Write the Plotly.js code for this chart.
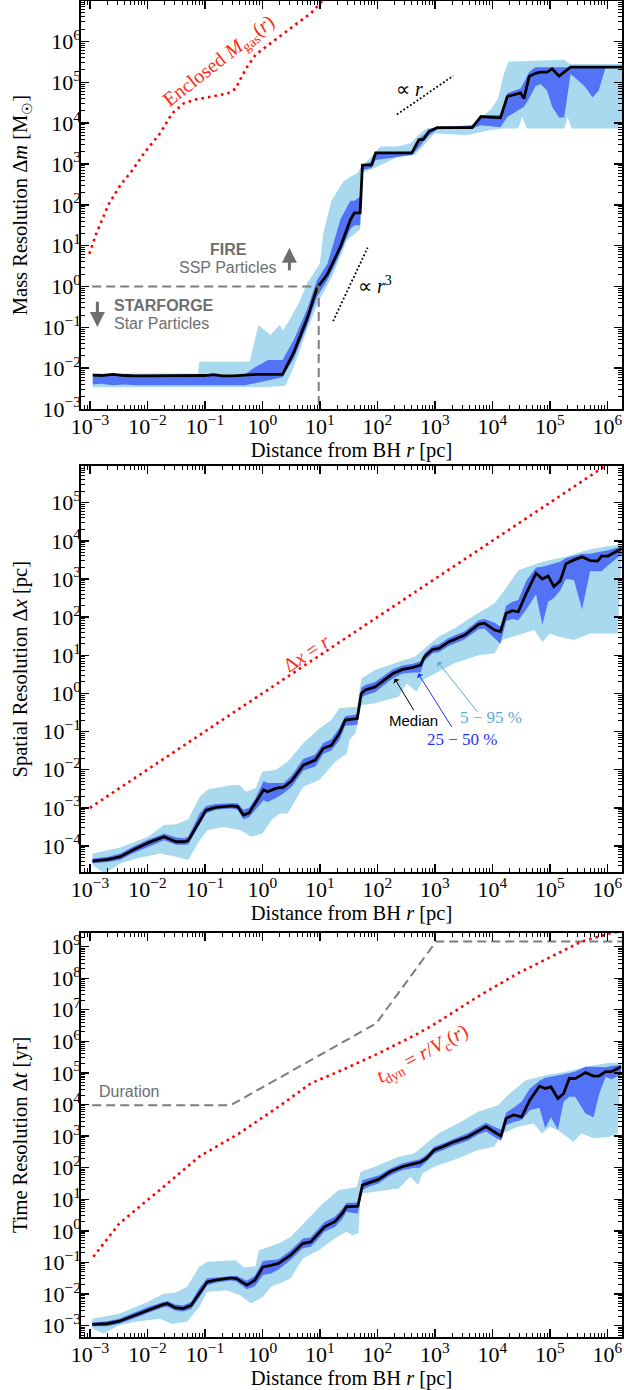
<!DOCTYPE html>
<html>
<head>
<meta charset="utf-8">
<script src="https://cdn.plot.ly/plotly-3.0.1.min.js"></script>
<style>html,body{margin:0;padding:0;background:#fff;}</style>
</head>
<body>
<div id="chart" style="width:624px;height:1390px;"></div>
<script>
// All radii and resolution values are stored in dex (log10 units).

// ---------- Panel 1: mass resolution ----------
const massR   = [-2.95,-2.8,-2.6,-2.4,-2.2,-2.0,-1.8,-1.6,-1.4,-1.2,-1.0,-0.85,-0.7,-0.5,-0.3,-0.1,0.1,0.35,0.55,0.78,0.95,1.13,1.3,1.36,1.53,1.6,1.7,1.74,1.9,1.97,2.6,2.72,2.8,2.9,3.04,3.65,3.8,4.14,4.26,4.49,4.55,4.64,4.75,4.84,4.95,5.04,5.16,5.25,5.36,5.5,5.62,5.74,5.85,5.97,6.26];
const massMed = [-2.17,-2.18,-2.15,-2.18,-2.19,-2.19,-2.19,-2.19,-2.19,-2.18,-2.18,-2.16,-2.19,-2.19,-2.17,-2.15,-2.15,-2.15,-1.6,-0.78,-0.04,0.3,0.8,0.98,1.63,1.8,1.8,2.97,2.98,3.27,3.27,3.59,3.6,3.8,3.89,3.89,4.16,4.13,4.65,4.74,4.6,5.14,5.22,5.25,5.25,5.33,5.15,5.25,5.37,5.37,5.37,5.37,5.37,5.37,5.37];
const massP75 = [-2.15,-2.16,-2.14,-2.16,-2.17,-2.17,-2.17,-2.17,-2.17,-2.16,-2.16,-2.14,-2.17,-2.17,-2.15,-1.95,-1.8,-1.8,-1.3,-0.55,0.15,0.55,1.4,1.65,2.1,2.1,2.2,2.99,3.05,3.28,3.3,3.62,3.7,3.85,3.9,3.95,4.2,4.2,4.73,4.85,5.0,5.25,5.37,5.37,5.37,5.37,5.37,5.37,5.37,5.37,5.37,5.37,5.37,5.37,5.37];
const massP25 = [-2.4,-2.38,-2.42,-2.4,-2.42,-2.42,-2.42,-2.42,-2.42,-2.42,-2.42,-2.42,-2.42,-2.42,-2.42,-2.35,-2.3,-2.22,-1.75,-0.95,-0.25,0.15,0.65,0.85,1.4,1.5,1.5,2.85,2.9,3.1,3.22,3.4,3.55,3.7,3.85,3.87,3.95,3.9,4.15,4.35,4.4,4.6,4.9,4.96,4.8,4.4,4.14,4.14,5.2,5.04,4.88,4.63,4.8,5.37,5.37];
const massP95R = [-2.95,-1.12,-1.1,-0.22,-0.07,0.14,0.3,0.36,0.49,0.66,0.78,0.85,1.0,1.06,1.2,1.4,1.54,1.65,1.72,1.9,2.05,2.34,2.58,2.75,2.87,3.56,3.68,3.97,4.1,4.2,4.28,5.25,5.35,6.26];
const massP95  = [-2.13,-2.13,-1.84,-1.84,-0.94,-1.19,-0.94,-1.07,-0.78,-0.33,0.1,0.23,0.56,1.3,2.1,2.56,2.69,2.77,2.93,3.18,3.43,3.43,3.51,3.76,3.88,3.88,4.0,4.33,4.6,5.2,5.5,5.55,5.45,5.45];
const massP5R  = [-2.95,-0.1,0.2,0.4,0.55,0.78,1.0,1.2,1.47,1.7,1.75,1.95,2.1,2.37,2.65,2.8,3.0,3.55,3.96,4.17,4.45,4.52,4.6,5.25,5.31,5.38,6.2,6.26];
const massP5   = [-2.47,-2.47,-2.45,-2.43,-1.95,-1.05,-0.3,0.2,1.13,1.4,2.8,2.9,3.0,3.18,3.22,3.45,3.75,3.7,3.83,3.87,3.87,4.15,3.87,3.87,4.15,3.87,3.87,4.1];
// enclosed gas mass M_gas(<r)
const encR = [-3.01,-2.89,-2.68,-2.47,-2.26,-2.06,-1.78,-1.57,-1.36,-1.16,-0.88,-0.6,-0.46,-0.39,-0.26,-0.12,0.09,0.3,0.5,0.85,1.02,1.2];
const encM = [0.8,1.29,2.0,2.48,2.85,3.26,3.75,4.24,4.49,4.58,4.65,4.73,4.85,5.06,5.39,5.67,5.9,6.12,6.35,6.7,6.96,7.2];
// reference slopes
const slope1R = [2.34,3.32], slope1M = [4.21,5.16];
const slope3R = [1.23,1.83], slope3M = [-0.85,0.95];
// FIRE / STARFORGE hand-off
const handR = [-2.96,0.98,0.98], handM = [0,0,-3];

// ---------- Panel 2: spatial resolution ----------
const dxR   = [-2.955,-2.68,-2.47,-2.26,-1.99,-1.71,-1.5,-1.36,-1.29,-1.09,-0.98,-0.81,-0.53,-0.43,-0.33,-0.23,-0.12,0.02,0.09,0.23,0.37,0.51,0.71,0.92,1.06,1.2,1.34,1.44,1.65,1.72,1.79,1.96,2.1,2.27,2.44,2.62,2.75,2.82,2.96,3.07,3.24,3.52,3.76,3.86,4.04,4.14,4.24,4.35,4.45,4.59,4.76,4.87,4.97,5.07,5.18,5.28,5.42,5.56,5.7,5.83,5.9,6.01,6.25];
const dxMed = [-4.4,-4.35,-4.28,-4.11,-3.92,-3.76,-3.89,-3.89,-3.86,-3.32,-3.06,-2.99,-2.95,-2.97,-3.19,-3.13,-2.88,-2.53,-2.58,-2.49,-2.46,-2.29,-1.88,-1.75,-1.44,-1.36,-1.05,-0.7,-0.66,0.0,0.09,0.17,0.33,0.52,0.63,0.68,0.74,0.96,1.15,1.18,1.35,1.53,1.81,1.84,1.66,1.62,2.1,2.17,2.14,2.62,3.15,3.0,3.08,2.8,2.95,3.4,3.5,3.58,3.48,3.47,3.6,3.6,3.8];
const dxP75 = [-4.33,-4.28,-4.2,-4.03,-3.84,-3.68,-3.78,-3.8,-3.75,-3.15,-2.95,-2.9,-2.88,-2.88,-3.05,-3.0,-2.75,-2.3,-2.35,-2.35,-2.35,-2.15,-1.72,-1.6,-1.3,-1.2,-0.9,-0.6,-0.55,0.15,0.22,0.3,0.45,0.63,0.73,0.78,0.84,1.05,1.25,1.28,1.45,1.63,1.92,1.95,1.85,1.75,2.3,2.4,2.45,2.95,3.3,3.32,3.36,3.4,3.45,3.55,3.6,3.66,3.66,3.7,3.72,3.75,3.85];
const dxP25 = [-4.45,-4.42,-4.36,-4.2,-4.02,-3.85,-3.97,-3.97,-3.96,-3.45,-3.15,-3.05,-3.02,-3.05,-3.3,-3.25,-3.05,-2.8,-2.85,-2.75,-2.62,-2.45,-2.02,-1.92,-1.58,-1.5,-1.22,-0.85,-0.82,-0.12,-0.05,0.03,0.2,0.4,0.52,0.55,0.55,0.85,1.05,1.08,1.24,1.42,1.68,1.7,1.45,1.3,1.9,1.95,1.92,2.2,2.6,1.8,2.4,2.5,2.7,3.0,2.97,2.2,3.2,3.2,3.2,3.35,3.65];
const dxP95R = [-2.955,-2.47,-1.99,-1.71,-1.5,-1.29,-1.09,-0.95,-0.53,-0.39,-0.29,-0.12,0.0,0.23,0.44,0.71,0.99,1.2,1.34,1.65,1.72,1.96,2.37,2.65,2.79,3.07,3.34,3.69,4.04,4.17,4.45,4.87,5.28,5.63,5.97,6.25];
const dxP95  = [-4.2,-4.04,-3.76,-3.45,-3.43,-3.3,-2.71,-2.52,-2.4,-2.4,-2.58,-2.49,-2.05,-2.01,-1.79,-1.31,-0.92,-0.7,-0.39,-0.35,0.39,0.61,0.83,0.96,1.14,1.49,1.7,2.05,2.36,2.62,3.23,3.45,3.58,3.75,3.85,3.9];
const dxP5R  = [-2.955,-2.75,-2.47,-2.19,-1.78,-1.5,-1.29,-1.09,-0.95,-0.67,-0.39,-0.19,0.0,0.16,0.3,0.44,0.71,0.99,1.27,1.47,1.52,1.62,1.72,1.96,2.37,2.51,2.68,2.79,3.0,3.34,3.76,4.04,4.17,4.45,4.73,4.87,5.0,5.14,5.42,5.7,5.97,6.18,6.25];
const dxP5   = [-4.5,-4.72,-4.46,-4.33,-4.2,-4.28,-4.37,-3.85,-3.58,-3.5,-3.58,-3.76,-3.67,-3.32,-3.15,-3.15,-2.45,-2.27,-1.79,-1.57,-1.2,-1.05,-0.31,-0.26,-0.09,0.26,0.04,0.35,0.52,0.79,1.0,1.05,1.4,1.53,1.66,1.35,1.57,1.49,1.4,1.57,1.57,1.57,3.6];
// the line Δx = r
const eqR = [-3.0,6.26], eqX = [-3.0,6.26];

// ---------- Panel 3: time resolution ----------
const dtR   = [-2.96,-2.7,-2.49,-2.21,-2.0,-1.72,-1.65,-1.52,-1.38,-1.24,-1.1,-0.96,-0.82,-0.55,-0.45,-0.27,-0.13,0.01,0.15,0.28,0.49,0.7,0.84,0.98,1.08,1.26,1.39,1.46,1.66,1.74,1.88,2.02,2.22,2.43,2.64,2.74,2.85,2.99,3.13,3.33,3.58,3.75,3.89,4.03,4.15,4.24,4.37,4.51,4.65,4.82,4.92,5.02,5.14,5.24,5.34,5.44,5.62,5.76,5.86,5.97,6.07,6.24];
const dtMed = [-2.96,-2.94,-2.86,-2.67,-2.51,-2.33,-2.3,-2.43,-2.46,-2.36,-1.99,-1.62,-1.56,-1.49,-1.51,-1.72,-1.56,-1.14,-1.09,-1.03,-0.77,-0.4,-0.35,-0.08,0.13,0.29,0.55,0.76,0.78,1.45,1.55,1.63,1.87,2.03,2.13,2.17,2.29,2.56,2.66,2.82,2.98,3.17,3.3,3.14,3.0,3.56,3.67,3.61,4.14,4.58,4.51,4.56,4.19,4.35,4.83,4.82,5.01,4.9,4.91,5.04,5.04,5.2];
const dtP75 = [-2.9,-2.86,-2.78,-2.58,-2.42,-2.25,-2.22,-2.33,-2.36,-2.25,-1.82,-1.5,-1.48,-1.42,-1.42,-1.58,-1.42,-0.95,-0.92,-0.9,-0.62,-0.25,-0.2,0.07,0.28,0.45,0.7,0.88,0.9,1.6,1.68,1.75,1.97,2.13,2.23,2.27,2.4,2.66,2.76,2.92,3.1,3.28,3.42,3.3,3.2,3.75,3.9,4.1,4.5,4.75,4.85,4.88,4.92,4.95,5.0,5.05,5.2,5.2,5.18,5.18,5.22,5.25];
const dtP25 = [-3.02,-3.02,-2.94,-2.76,-2.6,-2.42,-2.4,-2.52,-2.55,-2.47,-2.12,-1.72,-1.64,-1.57,-1.6,-1.85,-1.75,-1.4,-1.35,-1.22,-0.92,-0.55,-0.5,-0.24,-0.02,0.12,0.38,0.6,0.55,1.3,1.42,1.5,1.75,1.92,2.0,2.0,2.18,2.44,2.55,2.7,2.86,3.04,3.15,2.98,2.85,3.35,3.45,3.51,3.82,3.9,3.25,3.6,3.2,4.1,4.25,4.25,3.72,3.6,4.35,4.88,4.8,4.95];
const dtP95R = [-2.96,-2.49,-2.0,-1.72,-1.52,-1.31,-1.1,-0.96,-0.46,-0.32,-0.12,-0.06,0.28,0.49,0.77,1.05,1.32,1.64,1.71,1.96,2.37,2.64,2.78,3.06,3.4,3.75,4.1,4.24,4.58,4.93,5.28,5.69,6.04,6.24];
const dtP95  = [-2.78,-2.62,-2.25,-1.99,-1.96,-1.77,-1.14,-0.98,-0.93,-1.16,-1.12,-0.61,-0.4,-0.19,0.34,0.87,1.29,1.39,1.87,2.03,2.35,2.45,2.66,3.08,3.4,3.77,3.98,4.25,4.77,4.93,5.04,5.22,5.32,5.32];
const dtP5R  = [-2.96,-2.76,-2.49,-2.21,-1.79,-1.57,-1.31,-1.1,-0.96,-0.62,-0.39,-0.2,0.01,0.15,0.36,0.49,0.7,0.98,1.26,1.46,1.57,1.67,1.71,1.96,2.37,2.57,2.71,2.78,2.99,3.4,3.75,4.03,4.17,4.44,4.72,4.86,5.0,5.14,5.41,5.55,5.76,6.04,6.18,6.24];
const dtP5   = [-3.09,-3.25,-2.99,-2.88,-2.78,-2.94,-2.88,-2.41,-1.93,-1.88,-2.04,-2.3,-2.09,-1.77,-1.62,-1.51,-0.88,-0.61,-0.24,-0.03,-0.14,-0.08,1.18,1.24,1.34,1.71,1.45,1.82,2.03,2.29,2.56,2.66,3.08,3.3,3.4,3.08,3.3,3.19,2.82,3.08,2.93,2.98,3.08,5.2];
// simulation duration and dynamical time
const durR = [-2.96,-0.55,1.98,3.02,6.26];
const durT = [3.98,3.98,6.57,9.16,9.16];
const tdynR = [-2.94,-2.49,-1.79,-1.1,-0.41,0.28,0.84,1.32,2.02,2.71,3.06,3.75,4.44,5.14,5.55,6.04,6.26];
const tdynT = [-0.82,0.23,1.29,2.35,3.08,3.93,4.67,5.04,5.62,6.25,6.62,7.42,8.15,8.79,9.16,9.42,9.5];

// tick decades
const xTickExp  = [-3,-2,-1,0,1,2,3,4,5,6];
const y1TickExp = [-3,-2,-1,0,1,2,3,4,5,6];
const y2TickExp = [-4,-3,-2,-1,0,1,2,3,4,5];
const y3TickExp = [-3,-2,-1,0,1,2,3,4,5,6,7,8,9];

// ---------- styling ----------
const SERIF = 'Liberation Serif, Times New Roman, serif';
const SANS = 'Liberation Sans, Arial, sans-serif';
const LIGHT = 'rgb(168,217,239)';
const DARK = 'rgb(82,115,246)';
const RED = 'rgb(255,0,0)';
const GREY = 'rgb(110,110,110)';

const lin = a => a.map(v => Math.pow(10, v));

function band(xHi, yHi, xLo, yLo, color, xa, ya) {
  return {
    x: lin(xHi).concat(lin(xLo).reverse()),
    y: lin(yHi).concat(lin(yLo).reverse()),
    mode: 'lines', line: {width: 0, color: color},
    fill: 'toself', fillcolor: color,
    xaxis: xa, yaxis: ya, hoverinfo: 'skip', showlegend: false
  };
}
function curve(xs, ys, xa, ya, style) {
  return {x: lin(xs), y: lin(ys), mode: 'lines', line: style,
          xaxis: xa, yaxis: ya, hoverinfo: 'skip', showlegend: false};
}
function dexBand(xs, hi, lo, color, xa, ya) {
  return band(xs, hi, xs, lo, color, xa, ya);
}

const medStyle = {color: '#000', width: 2.8};
const redDots = {color: RED, width: 2.6, dash: '2.6px,4px'};
const greyDash = {color: 'rgb(125,125,125)', width: 2, dash: '9px,5px'};
const blackDots = {color: '#000', width: 1.8, dash: '1.8px,2.2px'};

const traces = [
  // panel 1
  band(massP95R, massP95, massP5R, massP5, LIGHT, 'x', 'y'),
  dexBand(massR, massP75, massP25, DARK, 'x', 'y'),
  curve(massR, massMed, 'x', 'y', medStyle),
  curve(encR, encM, 'x', 'y', redDots),
  curve(slope1R, slope1M, 'x', 'y', blackDots),
  curve(slope3R, slope3M, 'x', 'y', blackDots),
  curve(handR, handM, 'x', 'y', greyDash),
  // panel 2
  band(dxP95R, dxP95, dxP5R, dxP5, LIGHT, 'x2', 'y2'),
  dexBand(dxR, dxP75, dxP25, DARK, 'x2', 'y2'),
  curve(dxR, dxMed, 'x2', 'y2', medStyle),
  curve(eqR, eqX, 'x2', 'y2', redDots),
  // panel 3
  band(dtP95R, dtP95, dtP5R, dtP5, LIGHT, 'x3', 'y3'),
  dexBand(dtR, dtP75, dtP25, DARK, 'x3', 'y3'),
  curve(dtR, dtMed, 'x3', 'y3', medStyle),
  curve(durR, durT, 'x3', 'y3', greyDash),
  curve(tdynR, tdynT, 'x3', 'y3', redDots)
];

function tickText(exps) {
  return exps.map(e => '10<sup>' + (e < 0 ? '\u2212' + (-e) : e) + '</sup>');
}
function logAxis(exps, range, domain, anchor, titleText, standoff, labelShift) {
  return {
    type: 'log', range: range, domain: domain, anchor: anchor,
    tickmode: 'array', tickvals: lin(exps), ticktext: tickText(exps),
    showgrid: false, zeroline: false,
    showline: true, linecolor: '#000', linewidth: 1.6, mirror: 'allticks',
    ticks: 'inside', ticklen: 8, tickwidth: 1.4, tickcolor: '#000',
    minor: {ticks: 'inside', ticklen: 4, tickwidth: 1, tickcolor: '#000', dtick: 'D1', showgrid: false},
    tickfont: {family: SERIF, size: 22, color: '#000'},
    ticklabelstandoff: labelShift,
    title: {text: titleText, font: {family: SERIF, size: 20.5, color: '#000'}, standoff: standoff},
    automargin: false, fixedrange: true
  };
}

const xRange = [-3.155, 6.255];
const xTitle = 'Distance from BH <i>r</i> [pc]';
const dom1 = [0.6946, 1.0], dom2 = [0.3477, 0.6520], dom3 = [0.0, 0.3026];

const annText = (x, y, text, xr, yr, font, extra) => Object.assign({
  x: x, y: y, xref: xr, yref: yr, text: text, showarrow: false, font: font
}, extra || {});
const arrow = (x, y, ax, ay, xr, yr, color, width, head, size) => ({
  x: x, y: y, ax: ax, ay: ay, xref: xr, yref: yr, axref: xr, ayref: yr,
  text: '', showarrow: true, arrowcolor: color, arrowwidth: width, arrowhead: head, arrowsize: size
});

const annotations = [
  // panel 1
  annText(-0.75, 5.5, 'Enclosed <i>M</i><sub>gas</sub>(<i>r</i>)', 'x', 'y',
          {family: SERIF, size: 20, color: 'rgb(255,40,20)'}, {textangle: -38}),
  annText(2.56, 4.84, '\u221D <i>r</i>', 'x', 'y', {family: SERIF, size: 20, color: '#000'}),
  annText(1.96, 0.03, '\u221D <i>r</i><sup>3</sup>', 'x', 'y', {family: SERIF, size: 20, color: '#000'}),
  annText(-0.59, 0.9, '<b>FIRE</b>', 'x', 'y', {family: SANS, size: 16, color: GREY}),
  annText(-0.59, 0.456, 'SSP Particles', 'x', 'y', {family: SANS, size: 16, color: GREY}),
  annText(-2.615, -0.475, '<b>STARFORGE</b>', 'x', 'y', {family: SANS, size: 16, color: GREY}, {xanchor: 'left'}),
  annText(-2.615, -0.917, 'Star Particles', 'x', 'y', {family: SANS, size: 16, color: GREY}, {xanchor: 'left'}),
  arrow(0.47, 0.946, 0.47, 0.36, 'x', 'y', GREY, 3, 2, 1),
  arrow(-2.87, -0.99, -2.87, -0.34, 'x', 'y', GREY, 3, 2, 1),
  // panel 2
  annText(0.77, 1.05, '\u0394<i>x</i> = <i>r</i>', 'x2', 'y2',
          {family: SERIF, size: 20, color: 'rgb(255,40,20)'}, {textangle: -33.6}),
  annText(2.62, -0.72, 'Median', 'x2', 'y2', {family: SANS, size: 15, color: '#000'}),
  annText(3.48, -1.22, '25 \u2212 50 %', 'x2', 'y2', {family: SERIF, size: 17, color: 'rgb(30,50,255)'}),
  annText(3.97, -0.64, '5 \u2212 95 %', 'x2', 'y2', {family: SERIF, size: 17, color: 'rgb(90,170,215)'}),
  arrow(2.30, 0.39, 2.65, -0.48, 'x2', 'y2', '#000', 1, 1, 1.2),
  arrow(2.71, 0.52, 3.31, -0.92, 'x2', 'y2', 'rgb(30,50,255)', 1, 1, 1.2),
  arrow(3.05, 0.83, 3.76, -0.52, 'x2', 'y2', 'rgb(90,170,215)', 1, 1, 1.2),
  // panel 3
  annText(-2.87, 4.4, 'Duration', 'x3', 'y3', {family: SANS, size: 16, color: GREY}, {xanchor: 'left'}),
  annText(2.78, 5.6, '<i>t</i><sub>dyn</sub> = <i>r</i>/<i>V</i><sub>c</sub>(<i>r</i>)', 'x3', 'y3',
          {family: SERIF, size: 20, color: 'rgb(255,40,20)'}, {textangle: -28.5})
];

const layout = {
  width: 624, height: 1390,
  margin: {l: 81, r: 2, t: 1, b: 53},
  paper_bgcolor: '#fff', plot_bgcolor: '#fff',
  showlegend: false,
  xaxis:  logAxis(xTickExp, xRange, [0, 1], 'y',  xTitle, 0, -3),
  xaxis2: logAxis(xTickExp, xRange, [0, 1], 'y2', xTitle, 0, -3),
  xaxis3: logAxis(xTickExp, xRange, [0, 1], 'y3', xTitle, 0, -3),
  yaxis:  logAxis(y1TickExp, [-3, 6.99], dom1, 'x', 'Mass Resolution \u0394<i>m</i> [M<sub>\u2609</sub>]', 9, -6),
  yaxis2: logAxis(y2TickExp, [-4.695, 5.963], dom2, 'x2', 'Spatial Resolution \u0394<i>x</i> [pc]', 9, -6),
  yaxis3: logAxis(y3TickExp, [-3.36, 9.44], dom3, 'x3', 'Time Resolution \u0394<i>t</i> [yr]', 9, -6),
  annotations: annotations
};

Plotly.newPlot('chart', traces, layout, {staticPlot: true, displayModeBar: false});
</script>
</body>
</html>
